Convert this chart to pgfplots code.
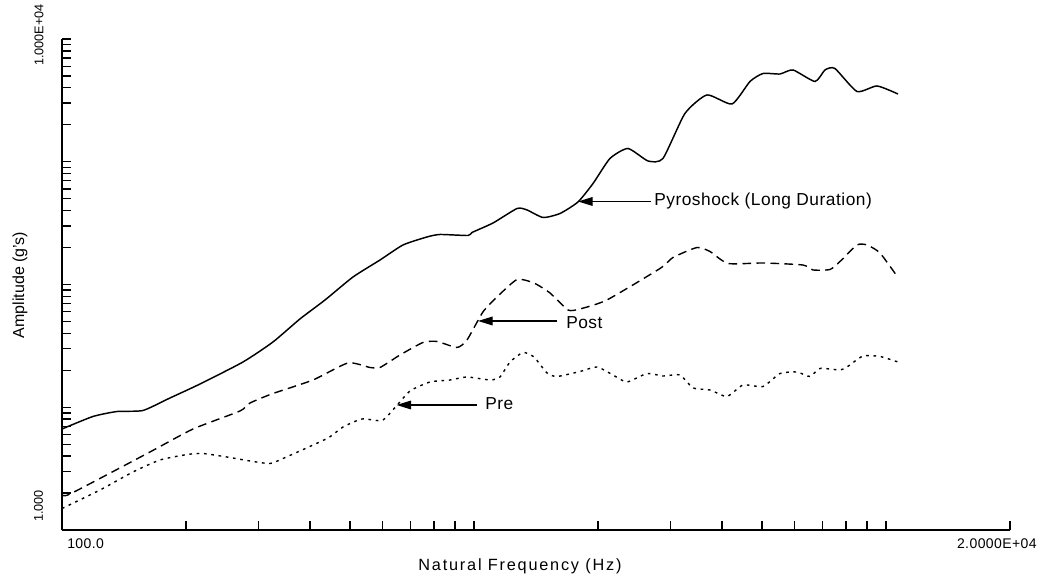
\documentclass[border=0pt]{standalone}
\usepackage{fontspec}
\setmainfont{Liberation Sans}
\newfontfamily\widefont[LetterSpace=11]{Liberation Sans}
\newfontfamily\tickfont[LetterSpace=3]{Liberation Sans}
\usepackage{pgfplots}
\pgfplotsset{compat=1.18}
\usetikzlibrary{arrows.meta}

\begin{document}
\begin{tikzpicture}[x=0.75pt,y=0.75pt]
\begin{axis}[
    at={(46.5pt,37.5pt)}, anchor=south west,
    scale only axis, width=711pt, height=368.25pt,
    xmode=log, ymode=log,
    xmin=100, xmax=20000, ymin=1, ymax=10000,
    axis x line=bottom, axis y line=left,
    axis line style={-, line width=1.35pt},
    xtick={100,1000,10000}, ytick={1,10,100,1000,10000},
    extra x ticks={20000}, extra x tick labels={},
    xticklabels={}, yticklabels={},
    tick align=inside,
    major tick length=6.8pt, minor tick length=6.8pt,
    every tick/.style={black, line width=1pt},
    clip=false,
]
% Pyroshock (Long Duration)
\addplot[black, line width=1.1pt, smooth, tension=0.35] coordinates {
(100,6.65) (118.9,8.41) (136,9.23) (157.2,9.41) (182.9,11.9) (216.3,15.47)
(275,23.37) (325.1,34.0) (378.1,52.4) (434.9,74.8) (508.5,115.1) (591.4,158.3)
(672.4,209.8) (768.9,243.8) (827,255.5) (967,250.7) (988.8,265.2) (1112,316.9)
(1272,415.9) (1345,404.5) (1471,351.4) (1617,378.7) (1788,469.9) (1945,665)
(2138,1063) (2364,1282) (2645,1014) (2875,1063) (3251,2473) (3677,3499)
(4229,2954) (4676,4506) (5029,5233) (5530,5186) (5947,5591) (6725,4506)
(7110,5591) (7517,5750) (8503,3736) (9510,4142) (10693,3563)
};
% Post
\addplot[black, line width=1.05pt, dash pattern=on 6.5pt off 4pt, smooth, tension=0.35] coordinates {
(100,1.965) (104.6,1.965) (163.5,4.32) (208,6.65) (270.4,9.32) (286,10.83)
(325.1,12.94) (406.6,16.67) (494.5,22.94) (559.3,21.08) (591.4,21.08) (661.3,26.65)
(751.9,33.69) (813.2,34.33) (909.4,30.68) (961.6,35.31) (1051,59.7) (1137,79.1)
(1272,109.8) (1398,102.8) (1529,85.3) (1691,62.0) (1808,63.2) (2102,74.8)
(2828,135) (3041,166) (3478,200.1) (3739,185.7) (4135,148.3) (5029,149.7)
(6287,144.1) (6649,131.3) (7313,132.5) (7734,154) (8503,209.8) (8994,209.8)
(9670,180.5) (10693,114)
};
% Pre
\addplot[black, line width=1.05pt, dash pattern=on 2pt off 3.5pt, smooth, tension=0.35] coordinates {
(100,1.497) (123.7,2.118) (148.7,2.969) (172.9,3.718) (201.2,4.122) (219.9,4.2)
(251.5,3.932) (286,3.649) (319.7,3.481) (343.9,3.824) (439.8,5.565) (480.9,6.904)
(534.8,8.024) (597.9,7.801) (643.3,9.95) (699.3,13.56) (782,16.06) (874.5,16.67)
(961.6,17.64) (1094,16.67) (1156,17.64) (1223,23.37) (1315,27.93) (1398,25.67)
(1504,19.01) (1590,17.8) (1808,19.55) (1988,21.28) (2175,18.31) (2351,16.06)
(2630,18.83) (2875,17.97) (3162,18.31) (3401,14.35) (3739,13.82) (4112,12.24)
(4497,15.18) (5029,14.76) (5530,18.83) (6081,19.37) (6540,17.8) (6916,20.69)
(7734,20.12) (8042,21.28) (8795,26.16) (9670,25.91) (10693,23.37)
};
\end{axis}

% tick labels and axis titles
\node[anchor=base west, inner sep=0, font=\tickfont\fontsize{10.5pt}{12pt}\selectfont] at (67,31) {100.0};
\node[anchor=base east, inner sep=0, font=\tickfont\fontsize{10.5pt}{12pt}\selectfont] at (1037,31) {2.0000E+04};
\node[rotate=90, inner sep=0, font=\fontsize{9.5pt}{11pt}\selectfont] at (39,545) {1.000E+04};
\node[rotate=90, inner sep=0, font=\fontsize{9.5pt}{11pt}\selectfont] at (38.5,74) {1.000};
\node[rotate=90, inner sep=0, font=\fontsize{12pt}{14pt}\selectfont] at (20,295) {Amplitude (g's)};
\node[inner sep=0, font=\widefont\fontsize{12.2pt}{14pt}\selectfont] at (520,14) {Natural Frequency (Hz)};

% annotations
\begin{scope}[font=\tickfont\fontsize{13pt}{15pt}\selectfont]
\node[anchor=base west, inner sep=0] at (654,374) {Pyroshock (Long Duration)};
\node[anchor=base west, inner sep=0] at (566,251) {Post};
\node[anchor=base west, inner sep=0] at (485,170) {Pre};
\end{scope}
\draw[line width=1pt, -{Triangle[length=11pt,width=6.5pt]}] (651,378.5) -- (578,378.5);
\draw[line width=1pt, -{Triangle[length=11pt,width=6.5pt]}] (557,259) -- (478,259);
\draw[line width=1pt, -{Triangle[length=11pt,width=6.5pt]}] (477,175) -- (396.5,175);

\pgfresetboundingbox
\path[use as bounding box] (0,0) rectangle (1051,580);
\end{tikzpicture}
\end{document}
